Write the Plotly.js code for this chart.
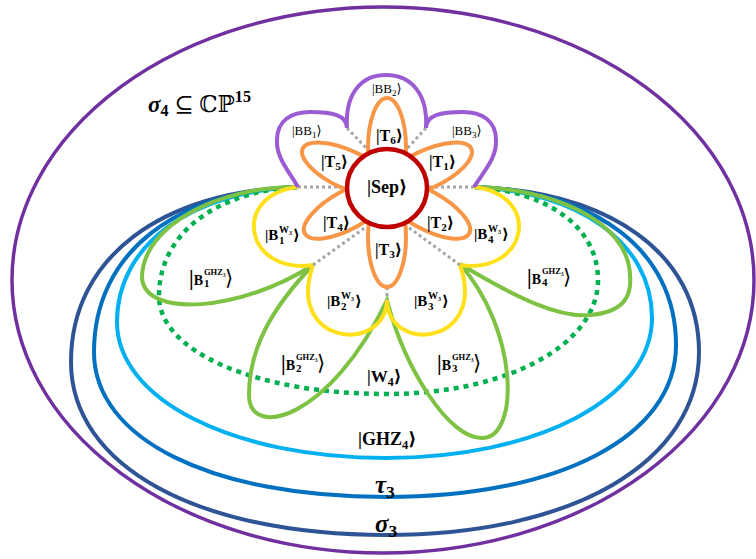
<!DOCTYPE html>
<html><head><meta charset="utf-8">
<script src="https://cdn.plot.ly/plotly-3.0.1.min.js"></script>
<style>html,body{margin:0;padding:0;background:#fff}#chart{width:756px;height:559px}</style>
</head><body><div id="chart"></div>
<script>
// ---------- diagram geometry (pixel space, y down) ----------
const outerCenter = [383, 280];
const outerRadii = [371, 273];

const sepCenter = [387, 188];
const sepRadii = [40, 39];

const petalNames = ['T1','T2','T3','T4','T5','T6'];
const petalAngles = [25, -29, -90, 209, 155, 90];
const petalTips = [93, 94, 99, 94, 93, 90];
const petalHalfLen = 50;
const petalHalfWid = 19;

const junctionL = [298, 187];
const junctionR = [474, 187];
const nestedNames = ['sigma3','tau3','GHZ4','W4'];
const nestedLeftX = [71, 94, 117, 159];
const nestedLeftY = [362, 352, 322, 296];
const nestedBottomY = [535, 497, 458, 394];
const nestedRightX = [699, 676, 652, 598];
const nestedRightY = [352, 345, 318, 280];
const nestedMidX = 386;
const nestedTopK = [0.6, 0.6, 0.58, 0.58];
const nestedBotK = [0.6, 0.6, 0.57, 0.57];
const nestedColors = ['#2F5496','#0070C0','#00B0F0','#00B050'];

// B^GHZ3 lobes (cubic chain)
const ghzLobes = [[298,187],[220,186],[142,225],[142,278],[145,318],[240,312],[313,265],
  [270,310],[249,350],[249,395],[249,440],[330,420],[387,300],
  [405,370],[450,440],[483,438],[520,436],[518,330],[460,264],
  [520,300],[560,318],[590,315],[625,312],[632,295],[630,275],[628,220],[550,188],[474,187]];
// B^W3 lobes
const wLobes = [[298,187],[230,195],[245,275],[313,265],[285,345],[385,355],[387,300],
  [388,355],[488,345],[460,265],[528,275],[543,195],[474,187]];
// BB lobes
const bbLobes = [[298,187],[288,170],[276,157],[277,140],[277,120],[292,112],[310,112],
  [332,112],[347,115],[347,128],[345,95],[360,75],[386,75],[412,75],[428,95],[426,128],
  [426,115],[441,112],[463,112],[481,112],[496,120],[496,140],[497,157],[485,170],[474,187]];
// grey dotted connectors
const connectors = [[[347,128],[370,152]],[[426,128],[404,152]],[[298,187],[347,187]],
  [[474,187],[427,187]],[[313,265],[366,227]],[[460,265],[408,227]],[[387,287],[387,300]]];

// ---------- labels ----------
const simpleLabels = [
  {t:'|BB<sub>2</sub>⟩', x:387, y:89, s:13, b:false},
  {t:'|BB<sub>1</sub>⟩', x:307, y:131, s:13, b:false},
  {t:'|BB<sub>3</sub>⟩', x:467, y:131, s:13, b:false},
  {t:'|T<sub>6</sub>⟩', x:389, y:136, s:16, b:true},
  {t:'|T<sub>5</sub>⟩', x:334, y:162, s:16, b:true},
  {t:'|T<sub>1</sub>⟩', x:442, y:162, s:16, b:true},
  {t:'|Sep⟩', x:387, y:187, s:18, b:true},
  {t:'|T<sub>4</sub>⟩', x:336, y:223, s:16, b:true},
  {t:'|T<sub>2</sub>⟩', x:440, y:223, s:16, b:true},
  {t:'|T<sub>3</sub>⟩', x:388, y:250, s:16, b:true},
  {t:'|W<sub>4</sub>⟩', x:384, y:378, s:17, b:true},
  {t:'|GHZ<sub>4</sub>⟩', x:387, y:440, s:18, b:true},
  {t:'<i>τ</i><sub>3</sub>', x:385, y:486, s:25, b:true},
  {t:'<i>σ</i><sub>3</sub>', x:386, y:525, s:25, b:true},
  {t:'<b><i>σ</i></b><sub><b>4</b></sub> ⊆ ℂℙ<sup><b>15</b></sup>', x:199, y:103, s:23, b:false}
];
const stackedBase = ['|B','|B','|B','|B','|B','|B','|B','|B'];
const stackedSup = ['W₃','W₃','W₃','W₃','GHZ₃','GHZ₃','GHZ₃','GHZ₃'];
const stackedSub = ['1','2','3','4','1','2','3','4'];
const stackedX = [280, 342, 429, 489, 205, 297, 453, 543];
const stackedY = [235, 301, 301, 234, 278, 363, 363, 277];
const stackedSize = [15, 15, 15, 15, 14, 14, 14, 14];
const stackedSupSize = [10, 10, 10, 10, 8.5, 8.5, 8.5, 8.5];
const stackedSupW = [14, 14, 14, 14, 21, 21, 21, 21];

// ---------- helpers ----------
function chain(pts){
  let s = 'M' + pts[0][0] + ',' + pts[0][1];
  for (let i = 1; i < pts.length; i += 3)
    s += ' C' + pts[i][0] + ',' + pts[i][1] + ' ' + pts[i+1][0] + ',' + pts[i+1][1] + ' ' + pts[i+2][0] + ',' + pts[i+2][1];
  return s;
}
function ellipsePath(cx, cy, a, b, deg){
  const t = deg * Math.PI / 180, ux = Math.cos(t), uy = -Math.sin(t), vx = -uy, vy = ux, k = 0.5523;
  const p = (m, n) => [cx + m*a*ux + n*b*vx, cy + m*a*uy + n*b*vy];
  return chain([p(1,0),p(1,k),p(k,1),p(0,1),p(-k,1),p(-1,k),p(-1,0),p(-1,-k),p(-k,-1),p(0,-1),p(k,-1),p(1,-k),p(1,0)]) + ' Z';
}
function nestedPath(i){
  const jl = junctionL, jr = junctionR, L = nestedLeftX[i], yl = nestedLeftY[i], B = nestedBottomY[i],
        R = nestedRightX[i], yr = nestedRightY[i], c = nestedMidX, kt = nestedTopK[i], kb = nestedBotK[i];
  return chain([jl, [jl[0]-kt*(jl[0]-L), jl[1]+4], [L, yl-kt*(yl-jl[1])], [L, yl],
    [L, yl+kb*(B-yl)], [c-kb*(c-L), B], [c, B],
    [c+kb*(R-c), B], [R, yr+kb*(B-yr)], [R, yr],
    [R, yr-kt*(yr-jr[1])], [jr[0]+kt*(R-jr[0]), jr[1]+4], jr]);
}

const shapes = [];
shapes.push({type:'circle', xref:'x', yref:'y', x0:outerCenter[0]-outerRadii[0], x1:outerCenter[0]+outerRadii[0],
  y0:outerCenter[1]-outerRadii[1], y1:outerCenter[1]+outerRadii[1], line:{color:'#7030A0', width:3.5}});
for (let i = 0; i < 3; i++) shapes.push({type:'path', path:nestedPath(i), line:{color:nestedColors[i], width:4}});
shapes.push({type:'path', path:nestedPath(3), line:{color:nestedColors[3], width:4.5, dash:'5px,5px'}});
shapes.push({type:'path', path:chain(ghzLobes), line:{color:'#7DC242', width:4}});
shapes.push({type:'path', path:chain(wLobes), line:{color:'#FFE01B', width:4}});
connectors.forEach(c => shapes.push({type:'line', x0:c[0][0], y0:c[0][1], x1:c[1][0], y1:c[1][1],
  line:{color:'#A6A6A6', width:3, dash:'3px,3px'}}));
shapes.push({type:'path', path:chain(bbLobes), line:{color:'#9B5BD3', width:4}});
petalNames.forEach((n, i) => {
  const t = petalAngles[i] * Math.PI / 180, d = petalTips[i] - petalHalfLen;
  shapes.push({type:'path', path:ellipsePath(sepCenter[0] + d*Math.cos(t), sepCenter[1] - d*Math.sin(t), petalHalfLen, petalHalfWid, petalAngles[i]),
    line:{color:'#F79646', width:4}});
});
shapes.push({type:'circle', x0:sepCenter[0]-sepRadii[0], x1:sepCenter[0]+sepRadii[0], y0:sepCenter[1]-sepRadii[1], y1:sepCenter[1]+sepRadii[1],
  fillcolor:'#FFFFFF', line:{color:'#C00000', width:4.5}});

const FONT = 'Liberation Serif, DejaVu Serif, serif';
const annotations = [];
simpleLabels.forEach(l => annotations.push({x:l.x, y:l.y, text: l.b ? '<b>' + l.t + '</b>' : l.t, showarrow:false,
  font:{family:FONT, size:l.s, color:'#000'}, xanchor:'center', yanchor:'middle'}));
stackedBase.forEach((b, i) => {
  const s = stackedSize[i], x = stackedX[i], y = stackedY[i], big = stackedSup[i].length > 2;
  const bar = big ? '<span style="font-size:' + (s+7) + 'px">|</span>' : '|';
  annotations.push({x:x, y:y, text:'<b>' + bar + 'B</b>', showarrow:false, xanchor:'right', yanchor:'middle',
    font:{family:FONT, size:s, color:'#000'}});
  annotations.push({x:x-3, y:y-6, text:'<b>' + stackedSup[i] + '</b>', showarrow:false, xanchor:'left', yanchor:'middle',
    font:{family:FONT, size:stackedSupSize[i], color:'#000'}});
  annotations.push({x:x-3, y:y+5, text:'<b>' + stackedSub[i] + '</b>', showarrow:false, xanchor:'left', yanchor:'middle',
    font:{family:FONT, size:Math.round(s*0.75), color:'#000'}});
  annotations.push({x:x - 3 + stackedSupW[i], y:y, text: big ? '<span style="font-size:' + (s+7) + 'px">⟩</span>' : '<b>⟩</b>',
    showarrow:false, xanchor:'left', yanchor:'middle', font:{family:FONT, size:s, color:'#000'}});
});

const layout = {
  width:756, height:559, margin:{l:0, r:0, t:0, b:0},
  paper_bgcolor:'#fff', plot_bgcolor:'#fff', showlegend:false,
  xaxis:{range:[0,756], visible:false, fixedrange:true},
  yaxis:{range:[559,0], visible:false, fixedrange:true},
  shapes: shapes, annotations: annotations
};
Plotly.newPlot('chart', [{x:[], y:[], type:'scatter', mode:'lines', hoverinfo:'skip'}], layout, {staticPlot:true, displayModeBar:false});
</script></body></html>
